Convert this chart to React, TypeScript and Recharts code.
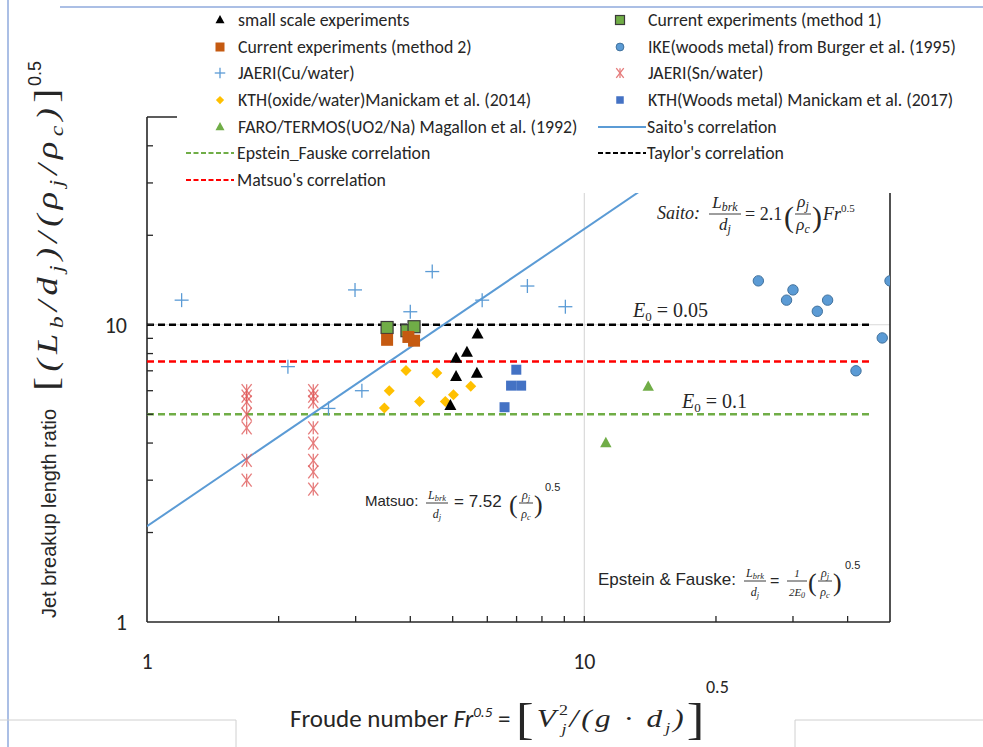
import React from "react";
import { ScatterChart, Scatter, XAxis, YAxis, ReferenceLine } from "recharts";

// Froude number (x) vs jet breakup length ratio (y)
const smallScale = [
  { x: 5.7, y: 9.3 }, { x: 5.39, y: 8.07 }, { x: 5.09, y: 7.71 },
  { x: 5.09, y: 6.69 }, { x: 5.68, y: 6.86 }, { x: 4.94, y: 5.35 },
];
const currentM1 = [{ x: 3.54, y: 9.79 }, { x: 3.93, y: 9.55 }, { x: 4.08, y: 9.85 }];
const currentM2 = [{ x: 3.54, y: 8.9 }, { x: 3.96, y: 9.1 }, { x: 4.08, y: 8.84 }];
const ikeWoods = [
  { x: 25, y: 14.05 }, { x: 30, y: 13.1 }, { x: 29, y: 12.1 }, { x: 36, y: 12.1 },
  { x: 34.1, y: 11.1 }, { x: 50, y: 14.05 }, { x: 48, y: 9.03 }, { x: 41.8, y: 7.0 },
];
const jaeriCu = [
  { x: 1.2, y: 12.1 }, { x: 2.99, y: 13.1 }, { x: 4.49, y: 15.1 }, { x: 4.0, y: 11.06 },
  { x: 5.84, y: 12.1 }, { x: 7.41, y: 13.5 }, { x: 9.05, y: 11.5 }, { x: 2.1, y: 7.23 },
  { x: 3.1, y: 6.0 }, { x: 2.6, y: 5.23 },
];
const jaeriSn = [
  { x: 1.69, y: 6.0 }, { x: 1.69, y: 5.75 }, { x: 1.69, y: 5.5 }, { x: 1.69, y: 5.0 },
  { x: 1.69, y: 4.5 }, { x: 1.69, y: 3.5 }, { x: 1.69, y: 3.0 },
  { x: 2.4, y: 6.0 }, { x: 2.4, y: 5.75 }, { x: 2.4, y: 5.5 }, { x: 2.4, y: 4.5 },
  { x: 2.4, y: 4.0 }, { x: 2.4, y: 3.5 }, { x: 2.4, y: 3.2 }, { x: 2.4, y: 2.8 },
];
const kthOxide = [
  { x: 3.91, y: 7.01 }, { x: 4.6, y: 6.88 }, { x: 3.58, y: 6.0 }, { x: 5.5, y: 6.21 },
  { x: 5.02, y: 5.81 }, { x: 4.2, y: 5.52 }, { x: 4.81, y: 5.52 }, { x: 3.49, y: 5.25 },
];
const kthWoods = [{ x: 6.99, y: 7.06 }, { x: 6.8, y: 6.24 }, { x: 7.17, y: 6.24 }, { x: 6.57, y: 5.28 }];
const faro = [{ x: 14.0, y: 6.19 }, { x: 11.2, y: 4.0 }];

// correlation lines
const saitoLine = [{ x: 1, y: 2.1 }, { x: 23.8, y: 50 }];
const taylorLine = [{ x: 1, y: 10 }, { x: 45.5, y: 10 }];
const matsuoLine = [{ x: 1, y: 7.52 }, { x: 45.5, y: 7.52 }];
const epsteinLine = [{ x: 1, y: 5 }, { x: 45.5, y: 5 }];

const axisTicks = [1, 2, 3, 4, 5, 6, 7, 8, 9, 10, 20, 30, 40, 50];
const labelledTicks = [1, 10];

const GREEN = "#70ad47";
const BLUE = "#5b9bd5";
const INK = "#262626";
const narrow = "Carlito, 'Liberation Sans Narrow', 'DejaVu Sans Condensed', 'Liberation Sans', sans-serif";
const sans = "'Liberation Sans', Arial, sans-serif";
const serif = "'Liberation Serif', 'DejaVu Serif', serif";

function Marker({ kind, cx, cy, fill, stroke, s = 1 }: any) {
  if (kind === "triangle") {
    const w = 12 * s, h = 11 * s;
    return <polygon points={`${cx},${cy - h * 0.6} ${cx - w / 2},${cy + h * 0.4} ${cx + w / 2},${cy + h * 0.4}`} fill={fill} />;
  }
  if (kind === "square") {
    const a = 12 * s;
    return <rect x={cx - a / 2} y={cy - a / 2} width={a} height={a} fill={fill} stroke={stroke || "none"} strokeWidth={1.2} />;
  }
  if (kind === "smallsquare") {
    const a = 10 * s;
    return <rect x={cx - a / 2} y={cy - a / 2} width={a} height={a} fill={fill} />;
  }
  if (kind === "circle") {
    return <circle cx={cx} cy={cy} r={5.2 * s} fill={fill} stroke={stroke} strokeWidth={1} />;
  }
  if (kind === "plus") {
    const a = 7 * s;
    return (
      <g stroke={fill} strokeWidth={1.3}>
        <line x1={cx - a} x2={cx + a} y1={cy} y2={cy} />
        <line x1={cx} x2={cx} y1={cy - a} y2={cy + a} />
      </g>
    );
  }
  if (kind === "asterisk") {
    const a = 5 * s, b = 6.5 * s;
    return (
      <g stroke={fill} strokeWidth={1.3} opacity={0.8}>
        <line x1={cx - a} x2={cx + a} y1={cy - b} y2={cy + b} />
        <line x1={cx - a} x2={cx + a} y1={cy + b} y2={cy - b} />
        <line x1={cx} x2={cx} y1={cy - b} y2={cy + b} />
      </g>
    );
  }
  // diamond
  const a = 5.5 * s;
  return <polygon points={`${cx},${cy - a} ${cx + a},${cy} ${cx},${cy + a} ${cx - a},${cy}`} fill={fill} />;
}

const pointSeries = [
  { name: "JAERI(Sn/water)", data: jaeriSn, kind: "asterisk", fill: "#e05a5a" },
  { name: "JAERI(Cu/water)", data: jaeriCu, kind: "plus", fill: BLUE },
  { name: "KTH(oxide/water)Manickam et al. (2014)", data: kthOxide, kind: "diamond", fill: "#ffc000" },
  { name: "KTH(Woods metal) Manickam et al. (2017)", data: kthWoods, kind: "smallsquare", fill: "#4472c4" },
  { name: "FARO/TERMOS(UO2/Na) Magallon et al. (1992)", data: faro, kind: "triangle", fill: GREEN, s: 0.95 },
  { name: "IKE(woods metal) from Burger et al. (1995)", data: ikeWoods, kind: "circle", fill: BLUE, stroke: "#41719c" },
  { name: "small scale experiments", data: smallScale, kind: "triangle", fill: "#000000" },
  { name: "Current experiments (method 1)", data: currentM1, kind: "square", fill: GREEN, stroke: "#3a3a3a" },
  { name: "Current experiments (method 2)", data: currentM2, kind: "square", fill: "#c55a11" },
];

const lineSeries = [
  { name: "Epstein_Fauske correlation", data: epsteinLine, stroke: GREEN, dash: "7 4" },
  { name: "Matsuo's correlation", data: matsuoLine, stroke: "#ff0000", dash: "7 4" },
  { name: "Taylor's correlation", data: taylorLine, stroke: "#000000", dash: "7 4" },
  { name: "Saito's correlation", data: saitoLine, stroke: BLUE, dash: undefined },
];

const legendLeft = [
  "small scale experiments", "Current experiments (method 2)", "JAERI(Cu/water)",
  "KTH(oxide/water)Manickam et al. (2014)", "FARO/TERMOS(UO2/Na) Magallon et al. (1992)",
  "Epstein_Fauske correlation", "Matsuo's correlation",
];
const legendRight = [
  "Current experiments (method 1)", "IKE(woods metal) from Burger et al. (1995)", "JAERI(Sn/water)",
  "KTH(Woods metal) Manickam et al. (2017)", "Saito's correlation", "Taylor's correlation",
];

const XTick = (props: any) => {
  const { x, y, payload } = props;
  const v = payload.value;
  return (
    <g>
      {v !== 1 && v !== 50 && <line x1={x} x2={x} y1={y} y2={y - 6} stroke={INK} strokeWidth={1.3} />}
      {labelledTicks.includes(v) && (
        <text x={x} y={y + 47} textAnchor="middle" fontFamily={narrow} fontSize={22} fill={INK}>{v}</text>
      )}
    </g>
  );
};

const YTick = (props: any) => {
  const { x, y, payload } = props;
  const v = payload.value;
  return (
    <g>
      {v !== 1 && v !== 50 && <line x1={x} x2={x + 6} y1={y} y2={y} stroke={INK} strokeWidth={1.3} />}
      {labelledTicks.includes(v) && (
        <text x={x - 20} y={y + 8} textAnchor="end" fontFamily={narrow} fontSize={22} fill={INK}>{v}</text>
      )}
    </g>
  );
};

const noDot = () => <g />;

function LegendEntry({ name, row, col }: any) {
  const top = 12 + row * 26.67 - 10;
  const base = col === 0 ? 8 : 420;
  const mcx = col === 0 ? 35 : 23;
  const textLeft = col === 0 ? 61 : 471;
  const p = pointSeries.find((d) => d.name === name);
  const l = lineSeries.find((d) => d.name === name);
  return (
    <>
      <svg style={{ position: "absolute", left: base, top }} width={50} height={20}>
        {p && <Marker kind={p.kind} cx={mcx} cy={10} fill={p.fill} stroke={p.stroke} s={0.75} />}
        {l && <line x1={1} x2={49} y1={10} y2={10} stroke={l.stroke} strokeWidth={2.2} strokeDasharray={l.dash ? "5 2.5" : undefined} />}
      </svg>
      <div style={{ position: "absolute", left: l ? textLeft - 1 : textLeft, top, lineHeight: "20px", fontSize: 17.8, whiteSpace: "nowrap", color: INK, fontFamily: narrow }}>
        {name}
      </div>
    </>
  );
}

function Frac({ cx, yNum, yBar, yDen, num, den, size, half }: any) {
  return (
    <g fontFamily={serif} fontStyle="italic" fontSize={size} fill={INK}>
      <text x={cx} y={yNum} textAnchor="middle">{num}</text>
      <line x1={cx - half} x2={cx + half} y1={yBar} y2={yBar} stroke={INK} strokeWidth={0.9} />
      <text x={cx} y={yDen} textAnchor="middle">{den}</text>
    </g>
  );
}

function Annotations() {
  const withSub = (base: string, s: string, sz: number) => (
    <>{base}<tspan fontSize={sz * 0.7} dy={sz * 0.2}>{s}</tspan></>
  );
  return (
    <svg style={{ position: "absolute", left: 0, top: 0, pointerEvents: "none" }} width={983} height={747}>
      {/* page decorations */}
      <line x1={60} x2={983} y1={7} y2={7} stroke="#8faadc" strokeWidth={1.5} />
      <line x1={8} x2={8} y1={0} y2={747} stroke="#8faadc" strokeWidth={1.5} />
      <path d="M0,720 H236 V747" fill="none" stroke="#d0d0d0" />
      <path d="M983,720 H795 V747" fill="none" stroke="#d0d0d0" />

      {/* y-axis title */}
      <text transform="translate(56,618) rotate(-90)" fontFamily={sans} fontSize={20} fill={INK}>
        Jet breakup length ratio
      </text>
      <text transform="translate(57,391) rotate(-90) scale(1.25,1)" fontFamily={serif} fontStyle="italic" fontSize={29} fill={INK}
        textLength={242} lengthAdjust="spacing">
        <tspan fontStyle="normal" fontSize={34}>[</tspan>
        <tspan>(L</tspan>
        <tspan fontSize={19} dy={6}>b</tspan>
        <tspan dy={-6}>/d</tspan>
        <tspan fontSize={19} dy={6}>j</tspan>
        <tspan dy={-6}>)/(ρ</tspan>
        <tspan fontSize={19} dy={6}>j</tspan>
        <tspan dy={-6}>/ρ</tspan>
        <tspan fontSize={19} dy={6}>c</tspan>
        <tspan dy={-6}>)</tspan>
        <tspan fontStyle="normal" fontSize={34}>]</tspan>
      </text>
      <text transform="translate(41,86) rotate(-90)" fontFamily={sans} fontSize={18} fill={INK}>0.5</text>

      {/* x-axis title */}
      <text x={290} y={727} fontFamily={narrow} fontSize={25} fill={INK}>
        Froude number <tspan fontStyle="italic">Fr</tspan>
        <tspan fontStyle="italic" fontSize={15} dy={-10}>0.5</tspan>
        <tspan dy={10}> =</tspan>
      </text>
      <text transform="translate(516,727) scale(1.2,1)" fontFamily={serif} fontStyle="italic" fontSize={26} fill={INK}
        textLength={157} lengthAdjust="spacing">
        <tspan fontStyle="normal" fontSize={44} dy={7}>[</tspan>
        <tspan dy={-7}>V</tspan>
        <tspan fontStyle="normal" fontSize={15} dy={-12}>2</tspan>
        <tspan fontSize={15} dx={-8} dy={19}>j</tspan>
        <tspan dy={-7}>/(g · d</tspan>
        <tspan fontSize={15} dy={6}>j</tspan>
        <tspan dy={-6}>)</tspan>
        <tspan fontStyle="normal" fontSize={44} dy={7}>]</tspan>
      </text>
      <text x={706} y={693} fontFamily={narrow} fontSize={18} fill={INK}>0.5</text>

      {/* E0 labels */}
      <text x={633} y={317} fontFamily={serif} fontSize={20} fill={INK}>
        <tspan fontStyle="italic">E</tspan><tspan fontSize={13} dy={4}>0</tspan><tspan dy={-4}> = 0.05</tspan>
      </text>
      <text x={682} y={408} fontFamily={serif} fontSize={20} fill={INK}>
        <tspan fontStyle="italic">E</tspan><tspan fontSize={13} dy={4}>0</tspan><tspan dy={-4}> = 0.1</tspan>
      </text>

      {/* Saito */}
      <text x={657} y={219} fontFamily={serif} fontStyle="italic" fontSize={18} fill={INK}>Saito:</text>
      <Frac cx={725} yNum={208} yBar={214} yDen={230} num={withSub("L", "brk", 17)} den={withSub("d", "j", 17)} size={17} half={16} />
      <text x={745} y={220} fontFamily={serif} fontSize={18} fill={INK}>= 2.1</text>
      <text x={784} y={227} fontFamily={serif} fontSize={30} fill={INK}>(</text>
      <Frac cx={803} yNum={207} yBar={214} yDen={230} num={withSub("ρ", "j", 17)} den={withSub("ρ", "c", 17)} size={17} half={8} />
      <text x={812} y={227} fontFamily={serif} fontSize={30} fill={INK}>)</text>
      <text x={823} y={220} fontFamily={serif} fontStyle="italic" fontSize={18} fill={INK}>
        Fr<tspan fontStyle="normal" fontSize={11} dy={-8}>0.5</tspan>
      </text>

      {/* Matsuo */}
      <text x={365} y={506} fontFamily={sans} fontSize={15} fill={INK}>Matsuo:</text>
      <Frac cx={437} yNum={499} yBar={503} yDen={518} num={withSub("L", "brk", 12)} den={withSub("d", "j", 12)} size={12} half={11} />
      <text x={454} y={507} fontFamily={sans} fontSize={17} fill={INK}>= 7.52</text>
      <text x={509} y={513} fontFamily={serif} fontSize={26} fill={INK}>(</text>
      <Frac cx={526} yNum={499} yBar={503} yDen={518} num={withSub("ρ", "j", 12)} den={withSub("ρ", "c", 12)} size={12} half={7} />
      <text x={534} y={513} fontFamily={serif} fontSize={26} fill={INK}>)</text>
      <text x={545} y={491} fontFamily={sans} fontSize={11} fill={INK}>0.5</text>

      {/* Epstein & Fauske */}
      <text x={598} y={585} fontFamily={sans} fontSize={17} fill={INK}>Epstein &amp; Fauske:</text>
      <Frac cx={755} yNum={577} yBar={581} yDen={596} num={withSub("L", "brk", 12)} den={withSub("d", "j", 12)} size={12} half={11} />
      <text x={770} y={586} fontFamily={sans} fontSize={16} fill={INK}>=</text>
      <Frac cx={797} yNum={577} yBar={581} yDen={596} num="1" den={<>2E<tspan fontSize={8} dy={2}>0</tspan></>} size={11} half={10} />
      <text x={808} y={591} fontFamily={serif} fontSize={26} fill={INK}>(</text>
      <Frac cx={825} yNum={577} yBar={581} yDen={596} num={withSub("ρ", "j", 12)} den={withSub("ρ", "c", 12)} size={12} half={7} />
      <text x={833} y={591} fontFamily={serif} fontSize={26} fill={INK}>)</text>
      <text x={845} y={569} fontFamily={sans} fontSize={11} fill={INK}>0.5</text>
    </svg>
  );
}

export default function App() {
  return (
    <div style={{ position: "absolute", left: 0, top: 0, width: 983, height: 747, background: "#fff" }}>
      <ScatterChart width={983} height={747} margin={{ top: 117, right: 93, bottom: 85, left: 87 }}>
        <XAxis
          type="number" dataKey="x" scale="log" domain={[1, 50]} allowDataOverflow
          ticks={axisTicks} interval={0} tickSize={0} tickMargin={0} tickLine={false}
          tick={XTick} height={40} axisLine={{ stroke: INK, strokeWidth: 1.6 }}
        />
        <YAxis
          type="number" dataKey="y" scale="log" domain={[1, 50]} allowDataOverflow
          ticks={axisTicks} interval={0} tickSize={0} tickMargin={0} tickLine={false}
          tick={YTick} width={60} axisLine={{ stroke: INK, strokeWidth: 1.6 }}
        />
        <ReferenceLine x={10} stroke="#d9d9d9" strokeWidth={1.2} />
        <ReferenceLine y={10} stroke="#d9d9d9" strokeWidth={1.2} />
        <ReferenceLine x={50} stroke={INK} strokeWidth={1.6} />
        <ReferenceLine y={50} stroke={INK} strokeWidth={1.6} />
        {lineSeries.map((l) => (
          <Scatter
            key={l.name} name={l.name} data={l.data} shape={noDot} isAnimationActive={false}
            line={{ stroke: l.stroke, strokeWidth: l.dash ? 2.4 : 2, strokeDasharray: l.dash }}
          />
        ))}
        {pointSeries.map((p) => (
          <Scatter
            key={p.name} name={p.name} data={p.data} isAnimationActive={false}
            shape={(props: any) => <Marker kind={p.kind} cx={props.cx} cy={props.cy} fill={p.fill} stroke={p.stroke} s={p.s || 1} />}
          />
        ))}
      </ScatterChart>
      <div style={{ position: "absolute", left: 177, top: 8, width: 806, height: 185, background: "#fff" }}>
        {legendLeft.map((n, i) => <LegendEntry key={n} name={n} row={i} col={0} />)}
        {legendRight.map((n, i) => <LegendEntry key={n} name={n} row={i} col={1} />)}
      </div>
      <Annotations />
    </div>
  );
}
